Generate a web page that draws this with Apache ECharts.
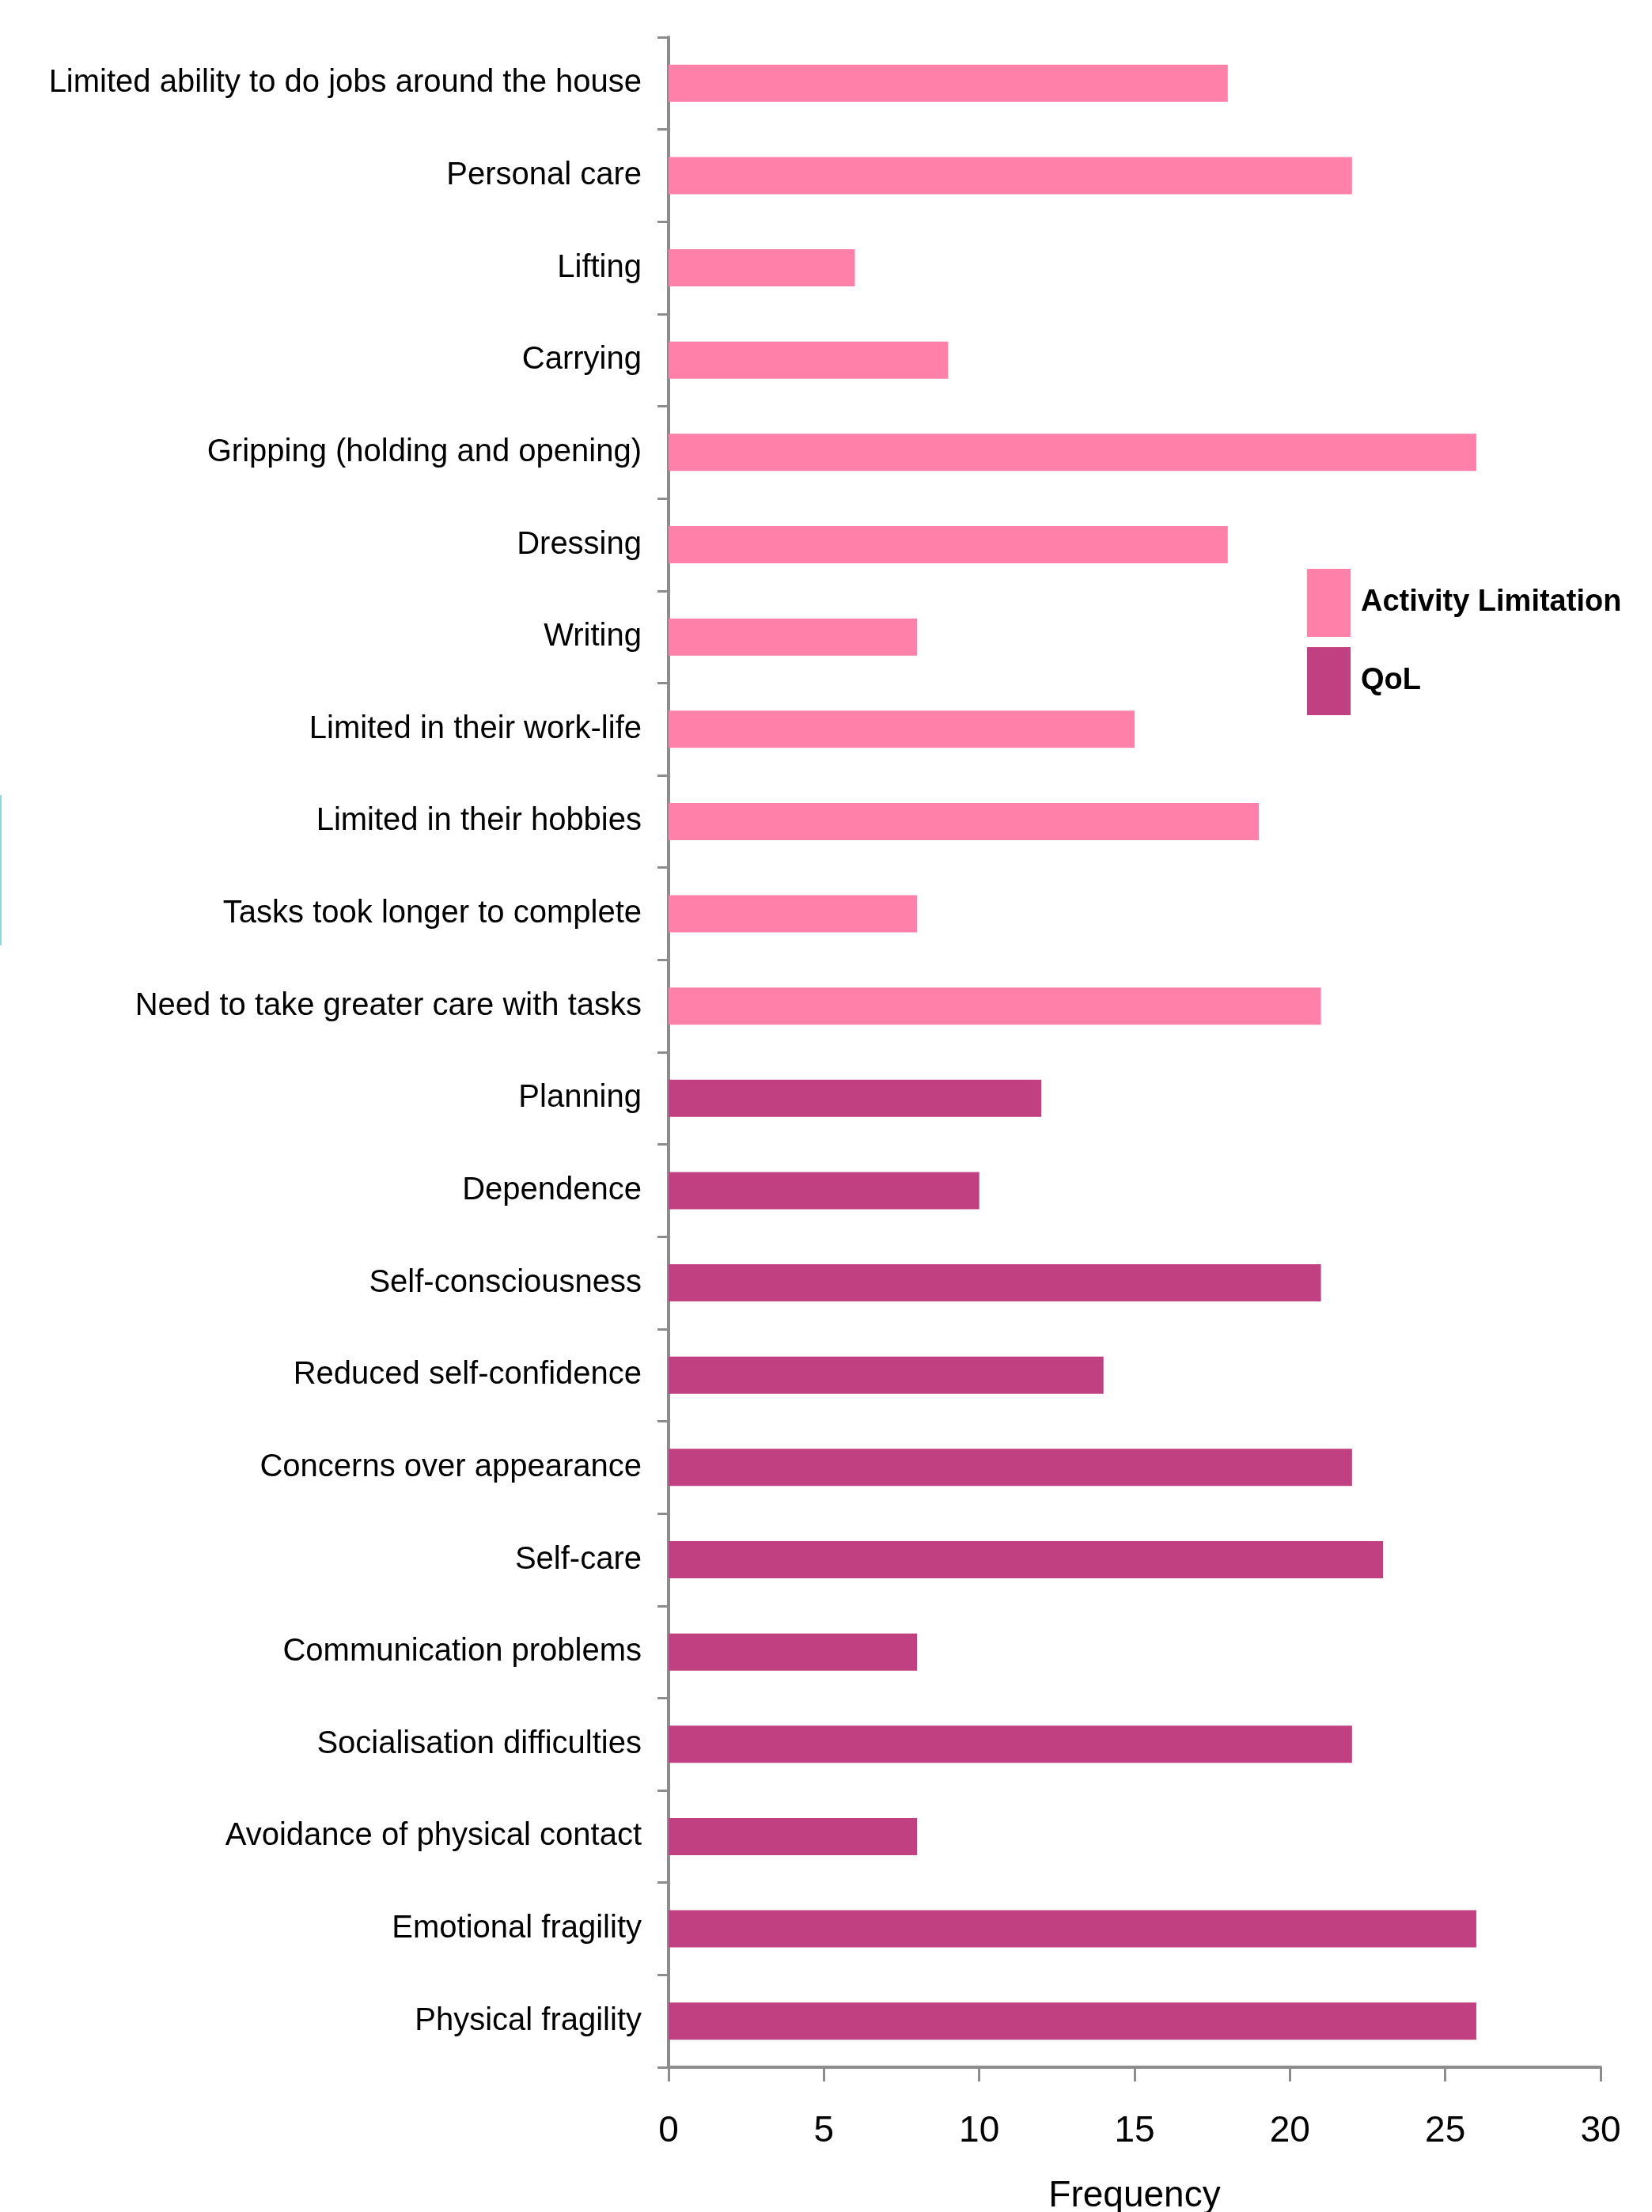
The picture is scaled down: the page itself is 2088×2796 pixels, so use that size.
<!DOCTYPE html>
<html>
<head>
<meta charset="utf-8">
<script src="https://cdn.jsdelivr.net/npm/echarts@6/dist/echarts.min.js"></script>
<style>
html, body { margin: 0; padding: 0; background: #fff; }
#chart { width: 2088px; height: 2796px; }
</style>
</head>
<body>
<div id="chart"></div>
<script>
var categories = [
    'Limited ability to do jobs around the house',
    'Personal care',
    'Lifting',
    'Carrying',
    'Gripping (holding and opening)',
    'Dressing',
    'Writing',
    'Limited in their work-life',
    'Limited in their hobbies',
    'Tasks took longer to complete',
    'Need to take greater care with tasks',
    'Planning',
    'Dependence',
    'Self-consciousness',
    'Reduced self-confidence',
    'Concerns over appearance',
    'Self-care',
    'Communication problems',
    'Socialisation difficulties',
    'Avoidance of physical contact',
    'Emotional fragility',
    'Physical fragility'
];
// Activity Limitation (first 11 categories)
var activityValues = [18, 22, 6, 9, 26, 18, 8, 15, 19, 8, 21];
// QoL (last 11 categories)
var qolValues = [12, 10, 21, 14, 22, 23, 8, 22, 8, 26, 26];
var xTicks = [0, 5, 10, 15, 20, 25, 30];

var pink = '#ff80a9';   // activity limitation
var plum = '#c04081';   // qol
var axisGrey = '#8c8c8c';
var labelFont = '"Liberation Sans", Arial, sans-serif';

var activityData = categories.map(function (c, i) {
    return i < activityValues.length ? activityValues[i] : '-';
});
var qolData = categories.map(function (c, i) {
    var j = i - activityValues.length;
    return j >= 0 ? qolValues[j] : '-';
});

var myChart = echarts.init(document.getElementById('chart'));
var option = {
    animation: false,
    backgroundColor: '#fff',
    grid: {
        left: 845,
        right: 65,
        top: 47,
        bottom: 183,
        containLabel: false,
        outerBoundsMode: 'none'
    },
    legend: {
        orient: 'vertical',
        left: 1652,
        top: 719,
        padding: 0,
        itemWidth: 55,
        itemHeight: 86,
        itemGap: 13,
        icon: 'rect',
        data: ['Activity Limitation', 'QoL'],
        textStyle: {
            fontFamily: labelFont,
            fontWeight: 'bold',
            fontSize: 38,
            color: '#000',
            padding: [0, 0, 0, 8]
        }
    },
    xAxis: {
        type: 'value',
        min: xTicks[0],
        max: xTicks[xTicks.length - 1],
        interval: 5,
        name: 'Frequency',
        nameLocation: 'middle',
        nameGap: 140,
        nameTextStyle: {
            fontFamily: labelFont,
            fontSize: 46,
            color: '#000'
        },
        splitLine: { show: false },
        axisLine: { show: true, lineStyle: { color: axisGrey, width: 4 } },
        axisTick: { show: true, length: 18, lineStyle: { color: axisGrey, width: 3 } },
        axisLabel: {
            margin: 58,
            fontFamily: labelFont,
            fontSize: 46,
            color: '#000'
        }
    },
    yAxis: {
        type: 'category',
        inverse: true,
        data: categories,
        axisLine: { show: true, onZero: false, lineStyle: { color: axisGrey, width: 4 } },
        axisTick: { show: true, length: 14, lineStyle: { color: axisGrey, width: 3 } },
        axisLabel: {
            margin: 34,
            fontFamily: labelFont,
            fontSize: 40,
            color: '#000',
            padding: [8, 0, 0, 0]
        }
    },
    series: [
        {
            name: 'Activity Limitation',
            type: 'bar',
            stack: 'all',
            barWidth: 47,
            itemStyle: { color: pink },
            data: activityData
        },
        {
            name: 'QoL',
            type: 'bar',
            stack: 'all',
            barWidth: 47,
            itemStyle: { color: plum },
            data: qolData
        }
    ],
    graphic: [
        {
            type: 'rect',
            left: 0,
            top: 1005,
            shape: { width: 2, height: 190 },
            style: { fill: '#8fd9dc' }
        }
    ]
};
myChart.setOption(option);
</script>
</body>
</html>
